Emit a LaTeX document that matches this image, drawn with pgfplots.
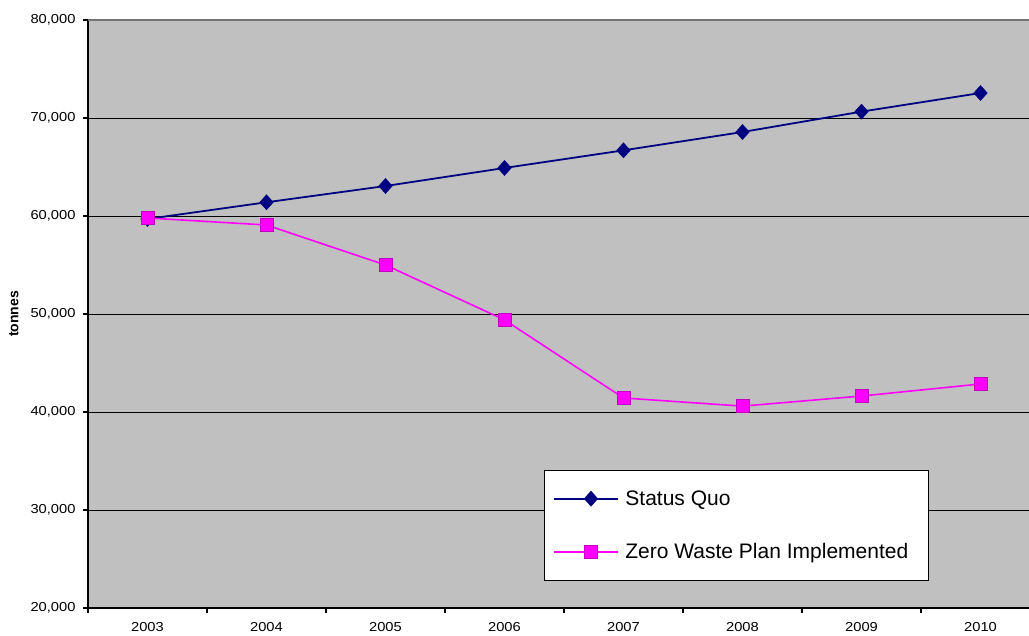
\documentclass[border=0pt]{standalone}
\usepackage{pgfplots}
\pgfplotsset{compat=1.18}
\usepackage{fontspec}
\setmainfont{Liberation Sans}
\newfontfamily\tickfont[FakeStretch=1.13]{Liberation Sans}
\definecolor{bggray}{HTML}{C0C0C0}
\definecolor{navyc}{HTML}{000080}
\definecolor{magc}{HTML}{FF00FF}
\begin{document}
\begin{tikzpicture}
\begin{axis}[
  scale only axis,
  width=952pt, height=588pt,
  xmin=-0.5, xmax=7.5,
  ymin=20000, ymax=80000,
  axis background/.style={fill=bggray},
  axis x line*=bottom, axis y line*=left,
  axis line style={line width=1.6pt, -},
  xtick={0,1,2,3,4,5,6,7},
  xticklabels={2003,2004,2005,2006,2007,2008,2009,2010},
  major x tick style={draw=none},
  minor xtick={-0.5,0.5,1.5,2.5,3.5,4.5,5.5,6.5},
  minor x tick style={black, line width=1.2pt},
  minor tick length=5pt,
  ytick={20000,30000,40000,50000,60000,70000,80000},
  major y tick style={black, line width=1.2pt},
  major tick length=5pt,
  tick align=outside,
  ymajorgrids,
  grid style={black, line width=0.9pt},
  yticklabel={\pgfmathprintnumber[assume math mode=true,1000 sep={,}]{\tick}},
  scaled y ticks=false,
  ticklabel style={font={\tickfont\fontsize{13}{15}\selectfont}},
  xticklabel style={yshift=-6pt},
  yticklabel style={xshift=-4pt},
  ylabel={\textbf{tonnes}},
  every axis y label/.style={at={([xshift=-74pt]axis description cs:0,0.5)}, rotate=90, anchor=center,
    font=\fontsize{14}{16}\selectfont},
  legend style={at={(0.479,0.2347)}, anchor=north west, draw=black, line width=1.2pt, fill=white,
    font=\fontsize{21}{25}\selectfont, inner xsep=8pt, inner ysep=18pt,
    row sep=33pt, nodes={inner xsep=7pt}},
  legend cell align=left,
  legend image code/.code={
    \path (-11pt,0) -- (53pt,0);
    \draw[#1, mark repeat=2, mark phase=2] plot coordinates {(0pt,0pt) (26.5pt,0pt) (53pt,0pt)};
  },
]
\draw[gray!90!black, line width=1.5pt] (rel axis cs:0,1) -- (rel axis cs:1,1);
\addplot[navyc, line width=1.8pt, mark=diamond*, mark size=7.5pt, mark options={xscale=1.2, fill=navyc, draw=navyc, line width=0.5pt}]
coordinates {(0,59700) (1,61400) (2,63060) (3,64900) (4,66700) (5,68570) (6,70650) (7,72550)};
\addlegendentry{Status Quo}
\addplot[magc, line width=1.6pt, mark=square*, mark size=6.5pt, mark options={fill=magc, draw=magc!75!black, line width=0.6pt}]
coordinates {(0,59800) (1,59080) (2,55000) (3,49400) (4,41430) (5,40600) (6,41630) (7,42860)};
\addlegendentry{Zero Waste Plan Implemented\kern5pt\null}
\end{axis}
\pgfresetboundingbox
\path[use as bounding box] ([xshift=-88pt,yshift=-27pt]current axis.south west) rectangle ([xshift=-11pt,yshift=20pt]current axis.north east);
\end{tikzpicture}
\end{document}
